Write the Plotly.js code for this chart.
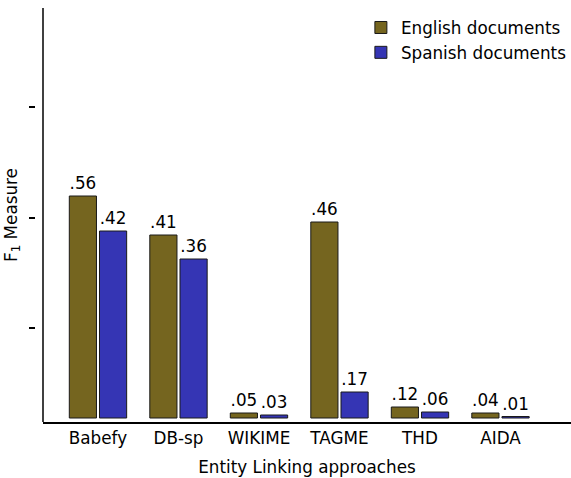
<!DOCTYPE html>
<html><head><meta charset="utf-8">
<script src="https://cdn.plot.ly/plotly-3.0.1.min.js"></script>
<style>body{margin:0;padding:0;background:#fff}#chart{width:571px;height:478px}</style>
</head><body><div id="chart"></div>
<script>
const categories = ["Babefy", "DB-sp", "WIKIME", "TAGME", "THD", "AIDA"];
// bar heights as drawn (chart units)
const englishValues = [222, 183, 5, 196, 11, 5];
const spanishValues = [187, 159, 3, 26, 6, 1.5];
// value labels printed above the bars
const englishLabels = [".56", ".41", ".05", ".46", ".12", ".04"];
const spanishLabels = [".42", ".36", ".03", ".17", ".06", ".01"];
const yTicks = [90, 200, 311];

const font = {family: "DejaVu Sans", size: 16.8, color: "#000"};
const common = {
  type: "bar", x: categories, textposition: "outside", cliponaxis: false,
  constraintext: "none", textfont: font,
};
const traces = [
  Object.assign({}, common, {name: "English documents", y: englishValues, text: englishLabels,
    marker: {color: "#75651f", line: {color: "#1a1a1a", width: 1}}}),
  Object.assign({}, common, {name: "Spanish documents", y: spanishValues, text: spanishLabels,
    marker: {color: "#3535b4", line: {color: "#1a1a1a", width: 1}}}),
];
const dom0 = 8 / 536;
const layout = {
  width: 571, height: 478,
  margin: {l: 35, r: 0, t: 8, b: 56, autoexpand: false},
  paper_bgcolor: "#fff", plot_bgcolor: "#fff",
  font: font,
  barmode: "group", bargap: 0.25, bargroupgap: 0.1,
  showlegend: true,
  legend: {x: 0.608, xanchor: "left", y: 0.995, yanchor: "top", font: font,
    bgcolor: "rgba(0,0,0,0)", tracegroupgap: 0},
  xaxis: {domain: [dom0, 1], range: [-0.683, 5.876], showgrid: false, zeroline: false,
    showline: true, linecolor: "#000", linewidth: 1.5, ticks: "", tickfont: font,
    title: {text: "Entity Linking approaches", font: font, standoff: 14}},
  yaxis: {anchor: "free", position: 0, range: [-4, 410], showgrid: false, zeroline: false,
    showline: false, ticks: "outside", ticklen: 6, tickwidth: 1.5, tickcolor: "#000",
    tickvals: yTicks, showticklabels: false,
    title: {text: "F<sub>1</sub> Measure", font: font, standoff: 6}},
  shapes: [{type: "line", xref: "paper", yref: "paper", x0: dom0, x1: dom0, y0: 0, y1: 1,
    line: {color: "#000", width: 1.5}}],
};
Plotly.newPlot("chart", traces, layout, {displayModeBar: false, staticPlot: true});
</script></body></html>
